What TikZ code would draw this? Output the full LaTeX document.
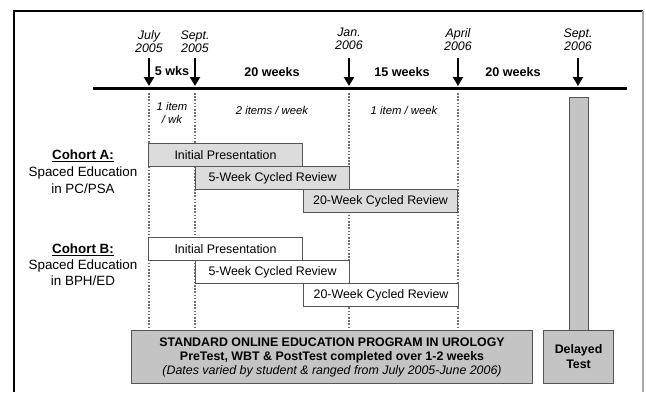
\documentclass[tikz,border=0pt]{standalone}
\usepackage{fontspec}
\setmainfont{Liberation Sans}
\usetikzlibrary{arrows.meta}
\definecolor{lightfill}{HTML}{DCDCDC}
\definecolor{darkfill}{HTML}{C4C4C4}
\definecolor{edgegray}{HTML}{555555}
\definecolor{dotgray}{HTML}{707070}
\definecolor{framegray}{HTML}{AAAAAA}
\begin{document}
\begin{tikzpicture}[x=1pt,y=-1pt,
  bar/.style={draw=edgegray, line width=1.1pt, minimum height=23pt, minimum width=154pt,
    anchor=north west, inner sep=0pt, font=\fontsize{12.4}{14}\selectfont},
  barA/.style={bar, fill=lightfill},
  barB/.style={bar, fill=white},
  bigbox/.style={draw=edgegray, line width=1.1pt, fill=darkfill, anchor=north west,
    inner sep=0pt, minimum height=53pt},
  datelbl/.style={align=center, font=\fontsize{12.4}{13}\selectfont\itshape, inner sep=0pt},
  spanlbl/.style={font=\fontsize{12.6}{14}\selectfont\bfseries, inner sep=0pt},
  ratelbl/.style={align=center, font=\fontsize{11.3}{13}\selectfont\itshape, inner sep=0pt},
  cohortlbl/.style={align=center, font=\fontsize{13.4}{17}\selectfont, inner sep=0pt},
  datearrow/.style={line width=2.4pt, -{Triangle[width=10pt,length=9pt]}},
  guide/.style={draw=dotgray, line width=1.2pt, dash pattern=on 1.6pt off 1.6pt},
]
\useasboundingbox (0,0) rectangle (646,392);

% frame
\coordinate (fBL) at (14,392);
\coordinate (fTL) at (14,11);
\coordinate (fTR) at (643,11);
\coordinate (fBR) at (643,392);
\draw[line width=1.6pt] (fBL) -- (fTL) -- (fTR);
\draw[framegray, line width=1.6pt] (fTR) -- (fBR);

% timeline
\coordinate (tlL) at (93,88);
\coordinate (tlR) at (627,88);
\draw[line width=3pt] (tlL) -- (tlR);

% date labels
\node[datelbl] (d1) at (149,41.5) {July\\2005};
\node[datelbl] (d2) at (195,41.5) {Sept.\\2005};
\node[datelbl] (d3) at (349,38.5) {Jan.\\2006};
\node[datelbl] (d4) at (458,39.5) {April\\2006};
\node[datelbl] (d5) at (578,40) {Sept.\\2006};

% arrows
\foreach \n/\x in {1/149,2/195,3/349,4/458,5/578}{
  \coordinate (a\n s) at (\x,58);
  \coordinate (a\n e) at (\x,86);
  \draw[datearrow] (a\n s) -- (a\n e);
}

% span labels
\node[spanlbl] (s1) at (172,71) {5 wks};
\node[spanlbl] (s2) at (272,72) {20 weeks};
\node[spanlbl] (s3) at (402,72) {15 weeks};
\node[spanlbl] (s4) at (513,72) {20 weeks};

% rate labels
\node[ratelbl] (r1) at (172,112.5) {1 item\\/ wk};
\node[ratelbl] (r2) at (272,110) {2 items / week};
\node[ratelbl] (r3) at (404,110) {1 item / week};

% dotted guides
\foreach \n/\x in {1/149,2/195,3/349,4/458}{
  \coordinate (g\n t) at (\x,93);
  \coordinate (g\n b) at (\x,330);
  \draw[guide] (g\n t) -- (g\n b);
}

% cohort labels
\node[cohortlbl] (cA) at (83,172) {\textbf{\underline{Cohort A:}}\\Spaced Education\\in PC/PSA};
\node[cohortlbl, font=\fontsize{13.4}{16}\selectfont] (cB) at (83,265) {\textbf{\underline{Cohort B:}}\\Spaced Education\\in BPH/ED};

% cohort A bars
\node[barA] (A1) at (148,143) {Initial Presentation};
\node[barA] (A2) at (195,166) {5-Week Cycled Review};
\node[barA] (A3) at (303,189) {20-Week Cycled Review};

% cohort B bars
\node[barB] (B1) at (148,237) {Initial Presentation};
\node[barB] (B2) at (195,260) {5-Week Cycled Review};
\node[barB, minimum width=155pt] (B3) at (303,283) {20-Week Cycled Review};

% delayed test bar
\node[draw=edgegray, line width=1.1pt, fill=darkfill, anchor=north west, inner sep=0pt,
  minimum width=19pt, minimum height=234pt] (dbar) at (569,97) {};

% bottom boxes
\node[bigbox, minimum width=401pt, align=center,
  font=\fontsize{12.4}{14}\selectfont] (std) at (131,330)
  {\textbf{STANDARD ONLINE EDUCATION PROGRAM IN UROLOGY}\\
   \textbf{PreTest, WBT \& PostTest completed over 1-2 weeks}\\
   \textit{(Dates varied by student \& ranged from July 2005-June 2006)}};
\node[bigbox, minimum width=70pt, align=center,
  font=\fontsize{12.4}{15}\selectfont\bfseries] (dt) at (543,330) {Delayed\\Test};
\end{tikzpicture}
\end{document}
